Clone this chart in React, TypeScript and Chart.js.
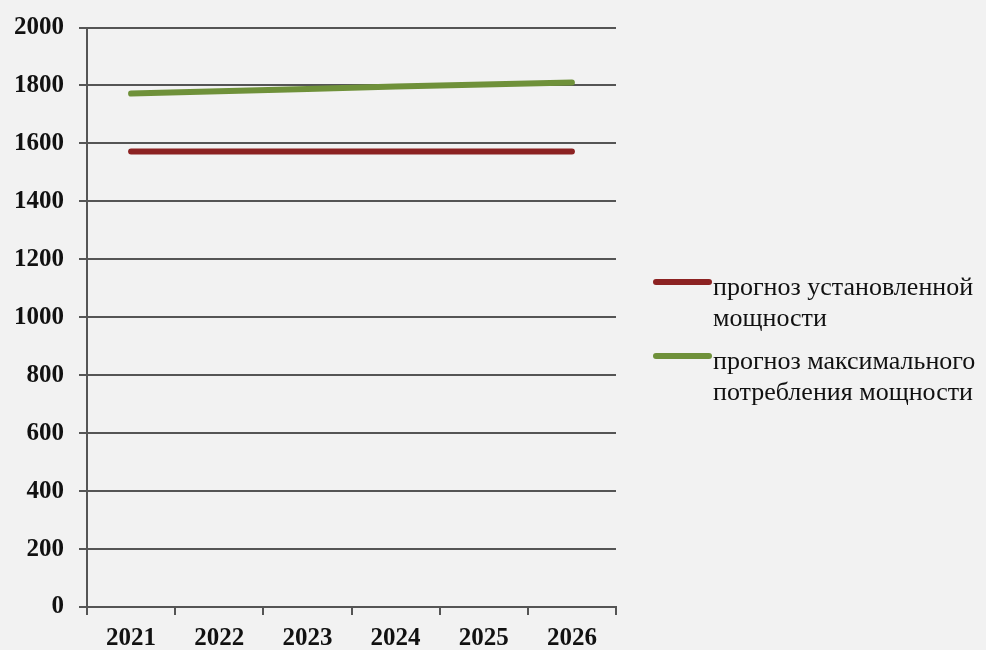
import React, { useEffect, useRef } from "react";
import { Chart, registerables } from "chart.js";

Chart.register(...registerables);

const categories = ["2021", "2022", "2023", "2024", "2025", "2026"];
const installedCapacity = [1572, 1572, 1572, 1572, 1572, 1572];
const maxConsumption = [1772, 1780, 1788, 1796, 1803, 1810];
const seriesNames = [
  ["прогноз установленной", "мощности"],
  ["прогноз максимального", "потребления мощности"],
];
const seriesColors = ["#8c2222", "#6f913a"];

const FONT = "'Liberation Serif'";

const legendPlugin = {
  id: "sideLegend",
  afterDraw(chart: any) {
    const ctx = chart.ctx;
    const items = chart.data.datasets;
    const lineTop = [282, 356];
    ctx.save();
    items.forEach((ds: any, i: number) => {
      const y = lineTop[i];
      ctx.strokeStyle = ds.borderColor;
      ctx.lineWidth = 6;
      ctx.lineCap = "round";
      ctx.beginPath();
      ctx.moveTo(656, y);
      ctx.lineTo(709, y);
      ctx.stroke();
      ctx.fillStyle = "#111";
      ctx.font = `26px ${FONT}`;
      ctx.textAlign = "left";
      ctx.textBaseline = "alphabetic";
      const lines: string[] = ds.legendLines;
      lines.forEach((t, k) => {
        ctx.fillText(t, 713, y + 13 + k * 31);
      });
    });
    ctx.restore();
  },
};

export default function App() {
  const ref = useRef<HTMLCanvasElement | null>(null);

  useEffect(() => {
    if (!ref.current) return;
    const chart = new Chart(ref.current, {
      type: "line",
      data: {
        labels: categories,
        datasets: [
          {
            label: seriesNames[0].join(" "),
            legendLines: seriesNames[0],
            data: installedCapacity,
            borderColor: seriesColors[0],
            borderWidth: 6,
            pointRadius: 0,
            borderCapStyle: "round",
          } as any,
          {
            label: seriesNames[1].join(" "),
            legendLines: seriesNames[1],
            data: maxConsumption,
            borderColor: seriesColors[1],
            borderWidth: 6,
            pointRadius: 0,
            borderCapStyle: "round",
          } as any,
        ],
      },
      plugins: [legendPlugin],
      options: {
        animation: false,
        responsive: false,
        maintainAspectRatio: false,
        layout: { padding: { top: 27, right: 370, left: 0, bottom: 0 } },
        plugins: { legend: { display: false }, tooltip: { enabled: false } },
        scales: {
          x: {
            offset: true,
            grid: { offset: true, drawOnChartArea: false, tickLength: 8, color: "#555", lineWidth: 2 },
            border: { color: "#555", width: 2 },
            ticks: { color: "#111", font: { family: FONT, size: 25, weight: "bold" }, padding: 9, maxRotation: 0 },
            afterFit: (s: any) => { s.height = 43; },
          },
          y: {
            min: 0,
            max: 2000,
            ticks: {
              stepSize: 200,
              color: "#111",
              font: { family: FONT, size: 25, weight: "bold", lineHeight: 1 },
              padding: 15,
              callback: (v: any) => String(v),
            },
            grid: { color: "#555", lineWidth: 2, tickLength: 8 },
            border: { color: "#555", width: 2 },
            afterFit: (s: any) => { s.width = 87; },
          },
        },
      },
    });
    return () => chart.destroy();
  }, []);

  return (
    <div style={{ position: "fixed", left: 0, top: 0, width: 986, height: 650, background: "#f2f2f2", overflow: "hidden" }}>
      <canvas ref={ref} width={986} height={650} style={{ position: "absolute", left: 0, top: 0, width: 986, height: 650 }} />
    </div>
  );
}
